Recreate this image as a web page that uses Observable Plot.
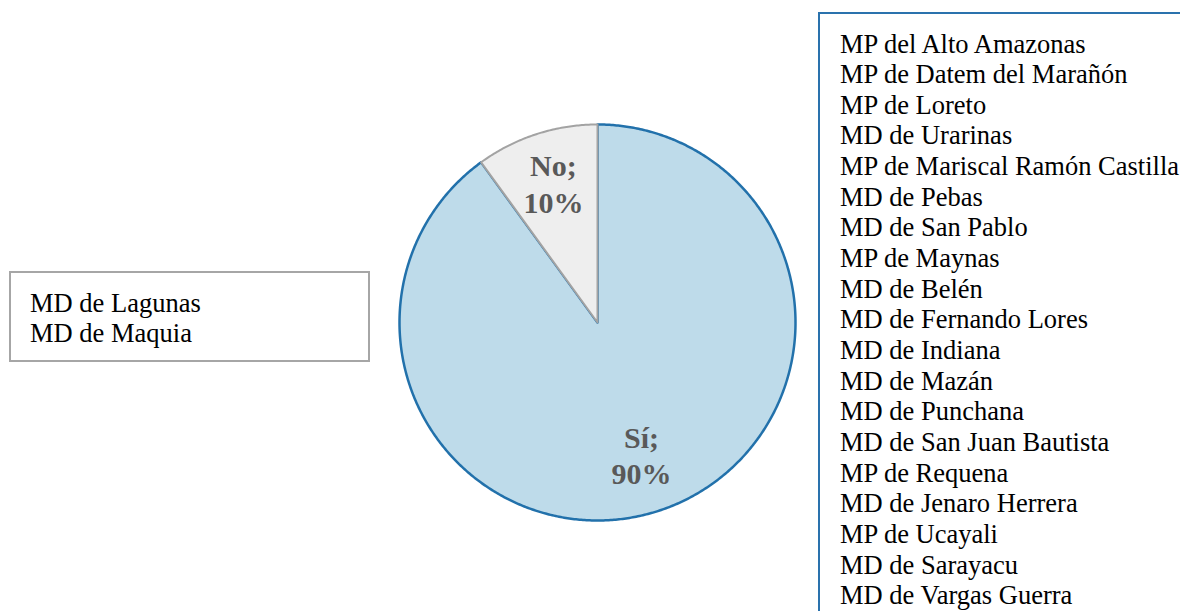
<!DOCTYPE html>
<html>
<head>
<meta charset="utf-8">
<script src="https://cdn.jsdelivr.net/npm/d3@7"></script>
<script src="https://cdn.jsdelivr.net/npm/@observablehq/plot@0.6"></script>
<style>
  html, body { margin: 0; padding: 0; background: #fff; overflow: hidden; }
  #wrap { position: relative; width: 1180px; height: 611px; }
  .box { position: absolute; box-sizing: border-box; color: #000; font-family: "Liberation Serif", "Times New Roman", serif; font-size: 26.5px; white-space: nowrap; }
  #left { left: 8.5px; top: 270.5px; width: 361px; height: 91px; border: 2.2px solid #a6a6a6; padding: 15.8px 0 0 19.5px; line-height: 30px; }
  #right { left: 818px; top: 12px; width: 420px; height: 640px; border: 2.2px solid #2a72ad; padding: 14.5px 0 0 20px; line-height: 30.65px; }
</style>
</head>
<body>
<div id="wrap"></div>
<script>
// Data
const categories = ["Sí", "No"];
const values = [90, 10];
const sliceFills = ["#bedbea", "#eeeeee"];
const sliceStrokes = ["#2271ab", "#a3a3a3"];
const leftList = ["MD de Lagunas", "MD de Maquia"];
const rightList = [
  "MP del Alto Amazonas", "MP de Datem del Marañón", "MP de Loreto", "MD de Urarinas",
  "MP de Mariscal Ramón Castilla", "MD de Pebas", "MD de San Pablo", "MP de Maynas",
  "MD de Belén", "MD de Fernando Lores", "MD de Indiana", "MD de Mazán", "MD de Punchana",
  "MD de San Juan Bautista", "MP de Requena", "MD de Jenaro Herrera", "MP de Ucayali",
  "MD de Sarayacu", "MD de Vargas Guerra"
];

// Layout
const W = 1180, H = 611, cx = 597, cy = 322, R = 198;

const pie = d3.pie().sort(null).value(d => d.value);
const arcs = pie(categories.map((c, i) => ({cat: c, value: values[i], i})));

function slicePoints(a) {
  const pts = [{x: 0, y: 0, cat: a.data.cat}];
  const n = Math.max(2, Math.ceil((a.endAngle - a.startAngle) / (Math.PI / 360)));
  for (let k = 0; k <= n; k++) {
    const t = a.startAngle + (a.endAngle - a.startAngle) * k / n;
    pts.push({x: Math.sin(t), y: Math.cos(t), cat: a.data.cat});
  }
  return pts;
}

const total = d3.sum(values);
const labels = arcs.map(a => {
  const m = (a.startAngle + a.endAngle) / 2;
  return {x: 0.72 * Math.sin(m), y: 0.72 * Math.cos(m), text: `${a.data.cat};\n${Math.round(a.data.value / total * 100)}%`};
});

const marks = [];
arcs.forEach((a, i) => {
  marks.push(Plot.line(slicePoints(a), {
    x: "x", y: "y", fill: sliceFills[i], stroke: sliceStrokes[i], strokeWidth: i === 0 ? 2.5 : 2,
    curve: "linear-closed", strokeLinejoin: "round"
  }));
});
marks.push(Plot.text(labels, {
  x: "x", y: "y", text: "text", fill: "#595959", fontWeight: "bold", fontSize: 30,
  fontFamily: "Liberation Serif", lineHeight: 1.22, textAnchor: "middle", dy: -4
}));

const chart = Plot.plot({
  width: W, height: H, margin: 0,
  x: {domain: [-cx / R, (W - cx) / R], range: [0, W], axis: null},
  y: {domain: [-(H - cy) / R, cy / R], range: [H, 0], axis: null},
  style: {background: "transparent"},
  marks
});

const wrap = document.getElementById("wrap");
chart.style.position = "absolute"; chart.style.left = "0"; chart.style.top = "0";
wrap.appendChild(chart);

function makeBox(id, list) {
  const el = document.createElement("div");
  el.className = "box"; el.id = id;
  list.forEach(s => {
    const d = document.createElement("div");
    d.textContent = s;
    el.appendChild(d);
  });
  wrap.appendChild(el);
}
makeBox("left", leftList);
makeBox("right", rightList);
</script>
</body>
</html>
